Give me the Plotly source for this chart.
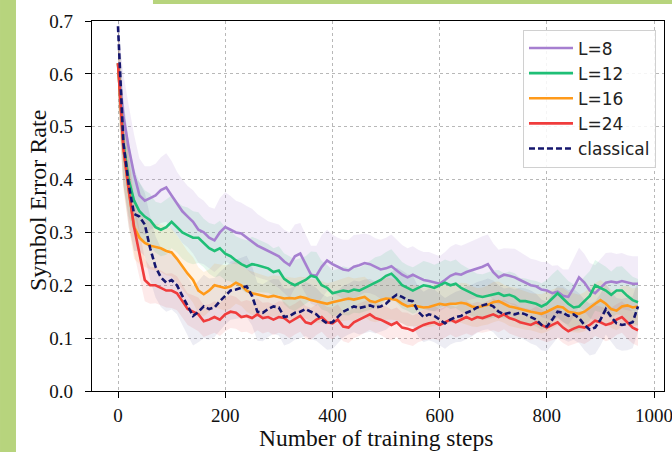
import plotly.graph_objects as go
import numpy as np

steps = list(range(0, 980, 10))

l8_mean = [
    0.62, 0.52, 0.46, 0.41, 0.37, 0.36, 0.365, 0.37, 0.38, 0.385,
    0.37, 0.355, 0.34, 0.33, 0.32, 0.305, 0.30, 0.29, 0.285, 0.30,
    0.31, 0.305, 0.30, 0.298, 0.29, 0.283, 0.275, 0.27, 0.265, 0.26,
    0.255, 0.245, 0.238, 0.255, 0.26, 0.24, 0.22, 0.218, 0.235, 0.247,
    0.24, 0.235, 0.23, 0.228, 0.235, 0.238, 0.242, 0.24, 0.235, 0.23,
    0.232, 0.236, 0.228, 0.22, 0.215, 0.22, 0.215, 0.21, 0.208, 0.205,
    0.203, 0.21, 0.218, 0.222, 0.22, 0.225, 0.228, 0.232, 0.235, 0.24,
    0.225, 0.215, 0.22, 0.218, 0.215, 0.21, 0.205, 0.2, 0.198, 0.192,
    0.19, 0.185, 0.188, 0.18, 0.178, 0.195, 0.215, 0.205, 0.19, 0.185,
    0.195, 0.205, 0.207, 0.205, 0.208, 0.205, 0.203, 0.203]

l12_mean = [
    0.62, 0.47, 0.40, 0.36, 0.34, 0.33, 0.323, 0.31, 0.305, 0.31,
    0.32, 0.31, 0.30, 0.295, 0.29, 0.29, 0.28, 0.27, 0.265, 0.27,
    0.26, 0.255, 0.247, 0.24, 0.235, 0.24, 0.238, 0.235, 0.232, 0.225,
    0.228, 0.212, 0.205, 0.2, 0.205, 0.21, 0.218, 0.215, 0.2, 0.195,
    0.185, 0.187, 0.19, 0.188, 0.192, 0.19, 0.195, 0.2, 0.205, 0.21,
    0.218, 0.222, 0.212, 0.2, 0.195, 0.19, 0.195, 0.2, 0.198, 0.195,
    0.2, 0.205, 0.2, 0.203, 0.195, 0.19, 0.185, 0.18, 0.178, 0.18,
    0.183, 0.185, 0.18, 0.182, 0.178, 0.17, 0.17, 0.168, 0.165, 0.16,
    0.165, 0.175, 0.185, 0.175, 0.165, 0.158, 0.16, 0.17, 0.18, 0.2,
    0.195, 0.19, 0.182, 0.19, 0.19, 0.18, 0.172, 0.168]

l16_mean = [
    0.62, 0.46, 0.38, 0.31, 0.29, 0.28, 0.275, 0.272, 0.27, 0.265,
    0.262, 0.25, 0.235, 0.222, 0.21, 0.19, 0.183, 0.19, 0.2, 0.198,
    0.195, 0.198, 0.205, 0.2, 0.19, 0.185, 0.183, 0.18, 0.178, 0.18,
    0.178, 0.175, 0.176, 0.175, 0.178, 0.176, 0.172, 0.17, 0.168, 0.165,
    0.168, 0.17, 0.172, 0.175, 0.173, 0.176, 0.178, 0.17, 0.168, 0.172,
    0.175, 0.174, 0.172, 0.165, 0.16, 0.162, 0.16, 0.158, 0.159, 0.162,
    0.165, 0.163, 0.165, 0.165, 0.167, 0.165, 0.16, 0.158, 0.16, 0.163,
    0.168, 0.17, 0.165, 0.16, 0.158, 0.155, 0.152, 0.15, 0.148, 0.146,
    0.15, 0.155, 0.16, 0.158, 0.15, 0.148, 0.146, 0.15, 0.158, 0.165,
    0.172, 0.165, 0.155, 0.152, 0.16, 0.162, 0.158, 0.16]

l24_mean = [
    0.62, 0.46, 0.38, 0.31, 0.26, 0.21, 0.20, 0.20, 0.195, 0.19,
    0.19, 0.185, 0.17, 0.155, 0.15, 0.145, 0.132, 0.135, 0.14, 0.135,
    0.145, 0.15, 0.148, 0.14, 0.142, 0.138, 0.145, 0.138, 0.14, 0.135,
    0.14, 0.138, 0.13, 0.136, 0.142, 0.13, 0.127, 0.135, 0.14, 0.13,
    0.128, 0.135, 0.122, 0.12, 0.13, 0.135, 0.14, 0.145, 0.138, 0.135,
    0.13, 0.125, 0.13, 0.12, 0.118, 0.114, 0.12, 0.125, 0.128, 0.13,
    0.125, 0.13, 0.135, 0.13, 0.135, 0.14, 0.135, 0.14, 0.138, 0.142,
    0.145, 0.14, 0.145, 0.138, 0.135, 0.13, 0.128, 0.125, 0.13, 0.125,
    0.12, 0.125, 0.13, 0.12, 0.113, 0.118, 0.122, 0.12, 0.125, 0.133,
    0.13, 0.125, 0.128, 0.135, 0.14, 0.13, 0.12, 0.115]

classical_mean = [
    0.69, 0.47, 0.39, 0.335, 0.33, 0.315, 0.27, 0.235, 0.215, 0.205,
    0.21, 0.2, 0.18, 0.16, 0.142, 0.15, 0.16, 0.155, 0.158, 0.17,
    0.18, 0.19, 0.192, 0.195, 0.198, 0.18, 0.15, 0.148, 0.155, 0.16,
    0.158, 0.14, 0.142, 0.148, 0.15, 0.155, 0.15, 0.145, 0.135, 0.128,
    0.13, 0.14, 0.15, 0.155, 0.16, 0.157, 0.16, 0.162, 0.158, 0.16,
    0.165, 0.175, 0.182, 0.178, 0.172, 0.17, 0.15, 0.14, 0.145, 0.142,
    0.135, 0.128, 0.135, 0.14, 0.142, 0.148, 0.152, 0.158, 0.162, 0.165,
    0.16, 0.15, 0.145, 0.148, 0.145, 0.148, 0.145, 0.14, 0.135, 0.125,
    0.122, 0.135, 0.15, 0.148, 0.142, 0.145, 0.138, 0.125, 0.116, 0.12,
    0.135, 0.155, 0.14, 0.128, 0.125, 0.127, 0.13, 0.16]

l8_std = [
    0.07, 0.08, 0.08, 0.075, 0.07, 0.065, 0.06, 0.06, 0.062, 0.065,
    0.065, 0.06, 0.06, 0.058, 0.06, 0.062, 0.06, 0.058, 0.06, 0.065,
    0.066, 0.064, 0.06, 0.058, 0.06, 0.062, 0.06, 0.058, 0.056, 0.058,
    0.06, 0.06, 0.062, 0.06, 0.058, 0.056, 0.055, 0.057, 0.06, 0.058,
    0.056, 0.055, 0.056, 0.058, 0.06, 0.058, 0.056, 0.055, 0.054, 0.056,
    0.058, 0.06, 0.058, 0.056, 0.055, 0.054, 0.052, 0.053, 0.055, 0.054,
    0.052, 0.053, 0.055, 0.056, 0.055, 0.054, 0.055, 0.056, 0.058, 0.056,
    0.054, 0.052, 0.05, 0.052, 0.054, 0.053, 0.052, 0.05, 0.05, 0.052,
    0.054, 0.052, 0.05, 0.05, 0.052, 0.055, 0.056, 0.054, 0.052, 0.053,
    0.055, 0.056, 0.055, 0.054, 0.053, 0.052, 0.052, 0.052]

l12_std = [
    0.07, 0.08, 0.07, 0.06, 0.055, 0.05, 0.05, 0.048, 0.05, 0.052,
    0.05, 0.048, 0.05, 0.052, 0.05, 0.048, 0.046, 0.048, 0.05, 0.052,
    0.05, 0.048, 0.046, 0.048, 0.05, 0.052, 0.05, 0.048, 0.046, 0.045,
    0.046, 0.048, 0.05, 0.048, 0.046, 0.045, 0.046, 0.048, 0.046, 0.044,
    0.043, 0.044, 0.046, 0.045, 0.044, 0.043, 0.044, 0.046, 0.048, 0.046,
    0.045, 0.046, 0.045, 0.044, 0.043, 0.044, 0.045, 0.046, 0.045, 0.044,
    0.043, 0.044, 0.045, 0.046, 0.045, 0.044, 0.043, 0.042, 0.043, 0.044,
    0.045, 0.044, 0.043, 0.044, 0.045, 0.044, 0.043, 0.042, 0.043, 0.044,
    0.045, 0.046, 0.045, 0.044, 0.043, 0.044, 0.045, 0.046, 0.047, 0.048,
    0.046, 0.045, 0.044, 0.045, 0.046, 0.045, 0.044, 0.044]

l16_std = [
    0.07, 0.08, 0.07, 0.06, 0.05, 0.045, 0.045, 0.044, 0.045, 0.046,
    0.045, 0.044, 0.043, 0.042, 0.043, 0.044, 0.042, 0.04, 0.041, 0.042,
    0.043, 0.042, 0.04, 0.039, 0.04, 0.041, 0.04, 0.039, 0.038, 0.039,
    0.04, 0.041, 0.04, 0.039, 0.038, 0.039, 0.04, 0.041, 0.04, 0.039,
    0.038, 0.039, 0.04, 0.041, 0.04, 0.039, 0.038, 0.037, 0.038, 0.039,
    0.04, 0.039, 0.038, 0.037, 0.038, 0.039, 0.038, 0.037, 0.038, 0.039,
    0.038, 0.037, 0.036, 0.037, 0.038, 0.039, 0.038, 0.037, 0.036, 0.037,
    0.038, 0.037, 0.036, 0.037, 0.038, 0.037, 0.036, 0.035, 0.036, 0.037,
    0.038, 0.037, 0.036, 0.037, 0.038, 0.037, 0.036, 0.037, 0.038, 0.039,
    0.038, 0.037, 0.036, 0.037, 0.038, 0.037, 0.036, 0.036]

l24_std = [
    0.07, 0.07, 0.06, 0.05, 0.045, 0.04, 0.035, 0.034, 0.033, 0.032,
    0.033, 0.032, 0.031, 0.03, 0.031, 0.032, 0.03, 0.029, 0.03, 0.031,
    0.032, 0.031, 0.03, 0.029, 0.03, 0.031, 0.03, 0.029, 0.028, 0.029,
    0.03, 0.031, 0.03, 0.029, 0.03, 0.031, 0.03, 0.029, 0.028, 0.029,
    0.03, 0.029, 0.028, 0.029, 0.03, 0.031, 0.03, 0.029, 0.028, 0.029,
    0.03, 0.029, 0.028, 0.029, 0.03, 0.029, 0.028, 0.029, 0.03, 0.031,
    0.03, 0.029, 0.028, 0.029, 0.03, 0.031, 0.03, 0.029, 0.028, 0.029,
    0.03, 0.029, 0.028, 0.029, 0.03, 0.029, 0.028, 0.029, 0.03, 0.029,
    0.028, 0.029, 0.03, 0.029, 0.028, 0.029, 0.03, 0.031, 0.03, 0.029,
    0.03, 0.031, 0.03, 0.029, 0.03, 0.031, 0.03, 0.03]

classical_std = [
    0.05, 0.08, 0.08, 0.07, 0.065, 0.06, 0.06, 0.058, 0.056, 0.055,
    0.056, 0.055, 0.054, 0.055, 0.056, 0.058, 0.06, 0.058, 0.056, 0.055,
    0.054, 0.055, 0.056, 0.057, 0.058, 0.056, 0.055, 0.054, 0.053, 0.052,
    0.053, 0.054, 0.052, 0.051, 0.05, 0.051, 0.052, 0.05, 0.049, 0.05,
    0.051, 0.05, 0.049, 0.048, 0.049, 0.05, 0.051, 0.05, 0.049, 0.048,
    0.049, 0.05, 0.051, 0.05, 0.049, 0.048, 0.047, 0.048, 0.049, 0.05,
    0.049, 0.048, 0.047, 0.048, 0.049, 0.05, 0.049, 0.048, 0.047, 0.048,
    0.049, 0.05, 0.049, 0.048, 0.047, 0.048, 0.049, 0.05, 0.049, 0.048,
    0.047, 0.048, 0.049, 0.05, 0.049, 0.048, 0.047, 0.048, 0.049, 0.05,
    0.049, 0.048, 0.047, 0.048, 0.049, 0.05, 0.049, 0.049]

names = ["L=8", "L=12", "L=16", "L=24", "classical"]
means = [l8_mean, l12_mean, l16_mean, l24_mean, classical_mean]
stds = [l8_std, l12_std, l16_std, l24_std, classical_std]
colors = ["#a67fd0", "#1fbf76", "#ff9a1a", "#f03c3c", "#15166e"]
band_rgba = ["rgba(166,127,208,0.15)", "rgba(31,191,118,0.12)", "rgba(255,154,26,0.12)",
             "rgba(240,60,60,0.11)", "rgba(21,22,110,0.08)"]

fig = go.Figure()
x = np.array(steps)
for m, s, c in zip(means, stds, band_rgba):
    m = np.array(m); s = np.array(s)
    up = m + s; lo = m - s
    fig.add_trace(go.Scatter(
        x=np.concatenate([x, x[::-1]]), y=np.concatenate([up, lo[::-1]]),
        fill="toself", fillcolor=c, line=dict(width=0), mode="lines",
        showlegend=False, hoverinfo="skip"))

for i, (n, m, c) in enumerate(zip(names, means, colors)):
    fig.add_trace(go.Scatter(
        x=steps, y=m, name=n, mode="lines", legendgroup=n,
        line=dict(color=c, width=2.6, dash="6px,3px" if n == "classical" else "solid")))

serif = "Liberation Serif, Times New Roman, serif"
axis_common = dict(
    showline=True, linecolor="black", linewidth=1.3, mirror=True,
    ticks="outside", ticklen=6, tickwidth=1.2, tickcolor="black",
    showgrid=True, gridcolor="#b8b8b8", gridwidth=1, griddash="dot",
    zeroline=False, automargin=False, ticklabeloverflow="allow",
    tickfont=dict(family=serif, size=19, color="#111"),
)
fig.update_xaxes(range=[-48.5, 1018.5], tickvals=[0, 200, 400, 600, 800, 1000],
                 ticktext=["0", "200", "400", "600", "800", "1000"], ticklabelstandoff=1, **axis_common)
fig.update_yaxes(range=[0, 0.7], tickvals=[0, 0.1, 0.2, 0.3, 0.4, 0.5, 0.6, 0.7],
                 ticktext=["0.0", "0.1", "0.2", "0.3", "0.4", "0.5", "0.6", "0.7"],
                 ticklabelstandoff=8, **axis_common)

green = "#b7d47d"
shapes = [
    dict(type="rect", xref="paper", yref="paper", x0=-0.1608, x1=-0.1329, y0=-0.17, y1=1.06,
         fillcolor=green, line=dict(width=0)),
    dict(type="rect", xref="paper", yref="paper", x0=0.1066, x1=1.02, y0=1.0459, y1=1.06,
         fillcolor=green, line=dict(width=0)),
]

annotations = [
    dict(text="Number of training steps", xref="paper", yref="paper", x=0.497, y=-0.126,
         xanchor="center", yanchor="middle", showarrow=False,
         font=dict(family=serif, size=23.5, color="#111")),
    dict(text="Symbol Error Rate", xref="paper", yref="paper", x=-0.0944, y=0.5135,
         xanchor="center", yanchor="middle", showarrow=False, textangle=-90,
         font=dict(family=serif, size=24, color="#111")),
]

fig.update_layout(
    width=672, height=452,
    margin=dict(l=92, r=8, t=21, b=61, autoexpand=False),
    paper_bgcolor="white", plot_bgcolor="white",
    shapes=shapes, annotations=annotations,
    legend=dict(x=0.986, y=0.977, xanchor="right", yanchor="top",
                bgcolor="rgba(255,255,255,0.85)", bordercolor="#d0d0d0", borderwidth=1,
                font=dict(family="DejaVu Sans, sans-serif", size=17, color="#222"),
                itemwidth=44, tracegroupgap=0, traceorder="normal"),
)

fig.write_html("out.html", config={"displayModeBar": False},
               post_script="document.body.style.margin='0px';document.body.style.padding='0px';")
